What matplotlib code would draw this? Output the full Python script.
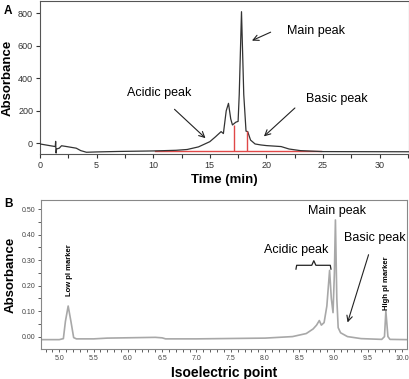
import matplotlib
matplotlib.use("Agg")
import matplotlib.pyplot as plt
from matplotlib.ticker import MultipleLocator, FormatStrFormatter

plt.rcParams['font.family'] = ['Liberation Sans', 'DejaVu Sans']

# panel A: cation exchange chromatogram
time_min = [0, 0.5, 1.0, 1.35, 1.38, 1.42, 1.46, 1.7, 1.9, 2.35, 3.2, 3.6, 4.1,
            5, 7, 10, 12, 13, 14, 15, 15.5, 16.0, 16.2, 16.45, 16.65, 16.85,
            17.0, 17.3, 17.5, 17.6, 17.8, 18.0, 18.2, 18.35, 18.6, 19.0, 19.5,
            20.0, 21.3, 22.0, 23.0, 25.0, 32.6]
absorb_a = [-4, -10, -16, -20, 12, -60, -35, -30, -15, -20, -30, -45, -55,
            -53, -50, -47, -43, -38, -22, 10, 40, 72, 60, 200, 246, 150,
            113, 130, 135, 300, 810, 300, 75, 72, 20, -4, -10,
            -14, -20, -35, -45, -51, -52]
# integration marks (red)
base_t = [10.2, 24.8]
base_v = [-50, -50]
drop_t = [17.1, 18.3]
drop_top = [113, 75]

# panel B: imaged cIEF profile
pi_vals = [4.74, 5.0, 5.06, 5.09, 5.13, 5.17, 5.21, 5.25, 5.5, 5.7, 6.4, 6.5,
           6.55, 7.0, 8.0, 8.4, 8.6, 8.7, 8.75, 8.79, 8.82, 8.86, 8.9, 8.94,
           8.965, 8.99, 9.01, 9.025, 9.045, 9.065, 9.1, 9.2, 9.4, 9.7, 9.74,
           9.76, 9.79, 9.82, 10.07]
absorb_b = [-0.012, -0.012, -0.008, 0.06, 0.12, 0.06, -0.004, -0.009, -0.009,
            -0.006, -0.003, -0.005, -0.009, -0.009, -0.006, 0.0, 0.012, 0.03,
            0.045, 0.063, 0.045, 0.055, 0.12, 0.26, 0.15, 0.094, 0.25, 0.458,
            0.15, 0.035, 0.015, 0.0, -0.008, -0.011, 0.0, 0.10, 0.0, -0.011,
            -0.012]

fig = plt.figure(figsize=(4.1, 3.79), dpi=100)

# ---- A ----
ax1 = fig.add_axes([0.0976, 0.594, 0.9, 0.403])
ax1.plot(time_min, absorb_a, color='#333333', lw=0.9, zorder=3)
ax1.plot(base_t, base_v, color='#e04848', lw=1.0, zorder=2)
ax1.vlines(drop_t, -50, drop_top, color='#e04848', lw=1.0, zorder=4)
ax1.set_xlim(0, 32.6)
ax1.set_ylim(-65, 875)
ax1.xaxis.set_major_locator(MultipleLocator(5))
ax1.xaxis.set_minor_locator(MultipleLocator(2.5))
ax1.yaxis.set_major_locator(MultipleLocator(200))
ax1.tick_params(axis='both', which='both', direction='out', labelsize=6.5,
                colors='#333333', length=3, width=0.8, pad=2)
ax1.set_xlabel('Time (min)', fontsize=9.5, fontweight='bold', labelpad=3)
ax1.set_ylabel('Absorbance', fontsize=9.5, fontweight='bold', labelpad=3)
for s in ax1.spines.values():
    s.set_color('#555555')
    s.set_linewidth(0.8)

arw = dict(arrowstyle='->', color='#222222', lw=0.8)
ax1.text(21.8, 691, 'Main peak', fontsize=9, va='center', ha='left')
ax1.annotate('', xy=(18.5, 625), xytext=(20.6, 691), arrowprops=arw)
ax1.text(7.7, 312, 'Acidic peak', fontsize=9, va='center', ha='left')
ax1.annotate('', xy=(14.8, 20), xytext=(11.7, 221), arrowprops=arw)
ax1.text(23.5, 273, 'Basic peak', fontsize=9, va='center', ha='left')
ax1.annotate('', xy=(19.6, 31), xytext=(22.7, 229), arrowprops=arw)

# ---- B ----
ax2 = fig.add_axes([0.101, 0.079, 0.892, 0.393])
ax2.plot(pi_vals, absorb_b, color='#a8a8a8', lw=1.2)
ax2.set_xlim(4.74, 10.07)
ax2.set_ylim(-0.049, 0.536)
ax2.xaxis.set_major_locator(MultipleLocator(0.5))
ax2.xaxis.set_minor_locator(MultipleLocator(0.1))
ax2.yaxis.set_major_locator(MultipleLocator(0.1))
ax2.yaxis.set_minor_locator(MultipleLocator(0.05))
ax2.xaxis.set_major_formatter(FormatStrFormatter('%.1f'))
ax2.yaxis.set_major_formatter(FormatStrFormatter('%.2f'))
ax2.tick_params(axis='both', which='both', direction='out', labelsize=5,
                colors='#444444', length=2, width=0.6, pad=2)
ax2.set_xlabel('Isoelectric point', fontsize=10, fontweight='bold', labelpad=3)
ax2.set_ylabel('Absorbance', fontsize=9.5, fontweight='bold', labelpad=4)
for s in ax2.spines.values():
    s.set_color('#888888')
    s.set_linewidth(0.8)

ax2.text(8.63, 0.494, 'Main peak', fontsize=9, va='center', ha='left')
ax2.text(9.15, 0.389, 'Basic peak', fontsize=9, va='center', ha='left')
ax2.annotate('', xy=(9.19, 0.045), xytext=(9.52, 0.332), arrowprops=arw)
ax2.text(7.99, 0.341, 'Acidic peak', fontsize=9, va='center', ha='left')
# brace over acidic peaks
ax2.plot([8.45, 8.46, 8.68, 8.71, 8.74, 8.95, 8.96],
         [0.265, 0.28, 0.28, 0.298, 0.28, 0.28, 0.265],
         color='#222222', lw=0.9)
ax2.text(5.15, 0.26, 'Low pI marker', rotation=90, fontsize=5.5,
         fontweight='bold', ha='center', va='center')
ax2.text(9.77, 0.21, 'High pI marker', rotation=90, fontsize=5.5,
         fontweight='bold', ha='center', va='center')

fig.text(0.01, 0.988, 'A', fontsize=8.5, fontweight='bold', va='top')
fig.text(0.01, 0.478, 'B', fontsize=8.5, fontweight='bold', va='top')

fig.savefig('out.png', dpi=100)
